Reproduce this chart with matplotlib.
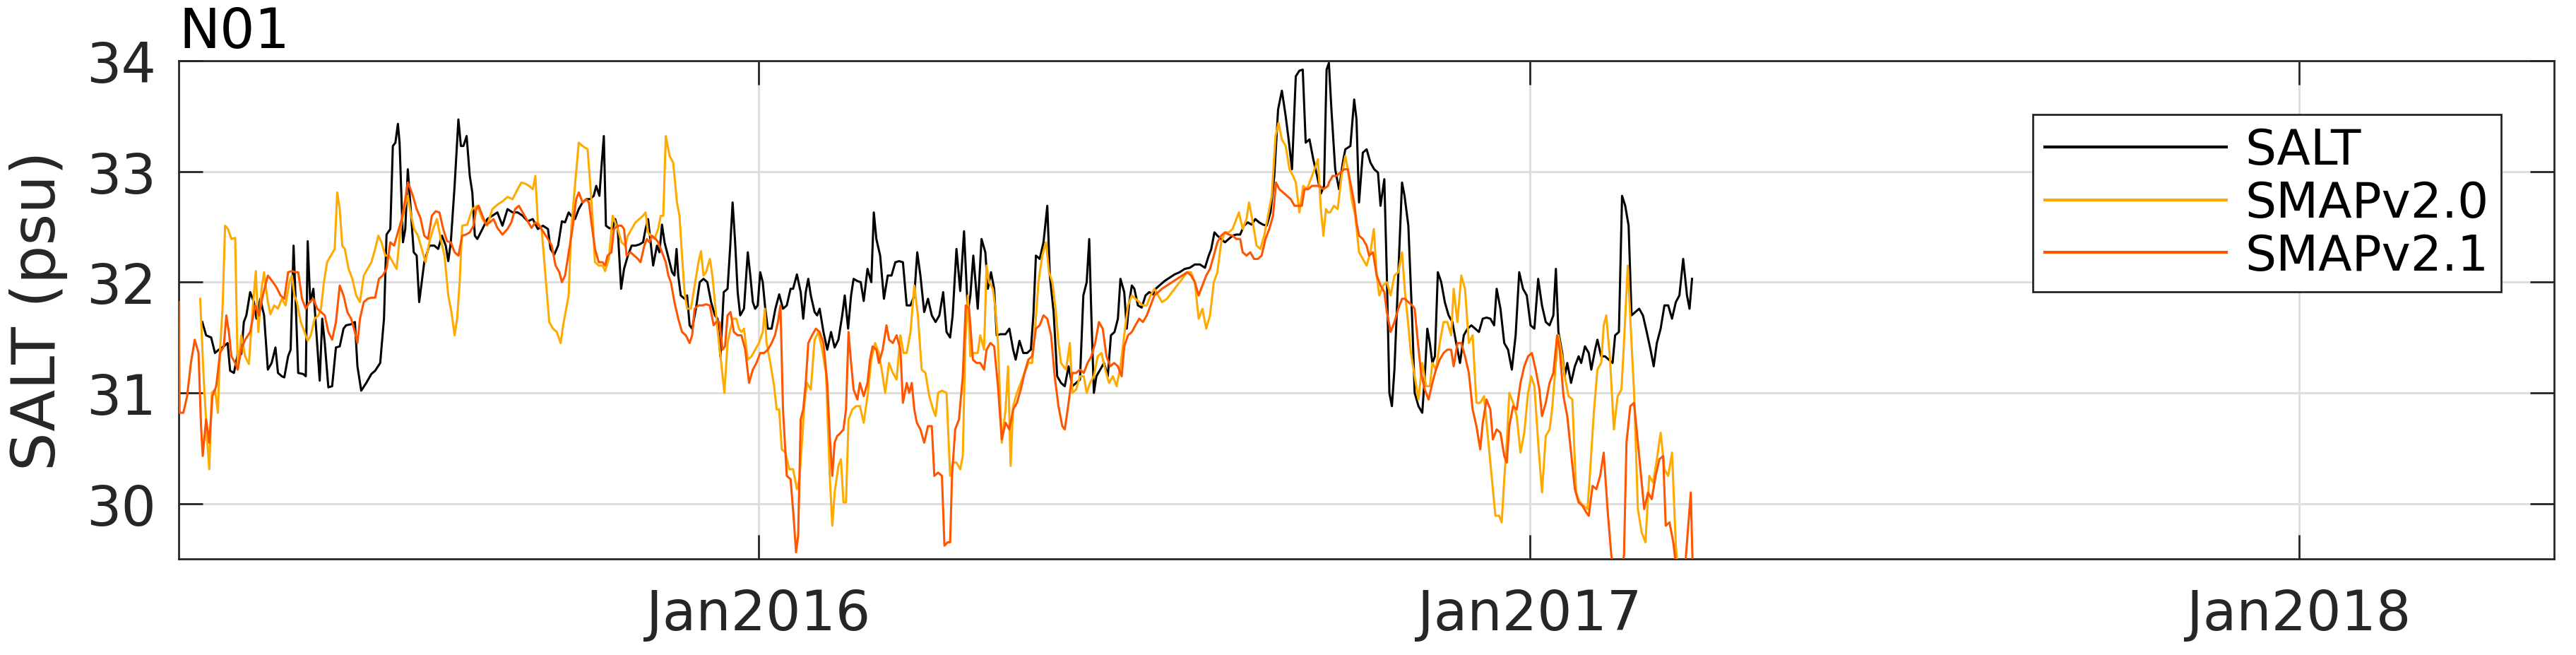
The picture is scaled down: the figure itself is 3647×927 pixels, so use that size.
import numpy as np
import matplotlib
matplotlib.use("Agg")
import matplotlib.pyplot as plt
import matplotlib.dates as mdates
from datetime import datetime

plt.rcParams['font.family'] = ['DejaVu Sans']

# ---------------- data (day offset since 2015-04-01, salinity psu) ----------------
start_date = datetime(2015, 4, 1)
station = "N01"
series_names = ["SALT", "SMAPv2.0", "SMAPv2.1"]
xtick_dates = [datetime(2016, 1, 1), datetime(2017, 1, 1), datetime(2018, 1, 1)]
xtick_labels = ["Jan2016", "Jan2017", "Jan2018"]
ytick_values = [30, 31, 32, 33, 34]

salt = [
 (11.2,31.64),(13.0,31.52),(15.4,31.50),(17.2,31.36),(19.0,31.39),(21.4,31.42),(23.2,31.45),(24.4,31.20),
 (26.2,31.18),(28.0,31.35),(29.7,31.35),(30.9,31.64),(32.1,31.70),(33.9,31.91),(35.7,31.82),(36.9,31.67),
 (38.7,31.85),(40.5,31.70),(42.3,31.21),(44.1,31.27),(45.9,31.41),(47.1,31.18),(48.9,31.15),(50.1,31.14),
 (51.9,31.33),(53.1,31.39),(54.5,32.33),(55.5,31.82),(56.7,31.18),(59.1,31.17),(60.3,31.15),(61.2,32.37),
 (62.4,31.82),(63.9,31.94),(65.1,31.61),(66.9,31.11),(68.1,31.67),(69.3,31.45),(71.0,31.05),(72.8,31.06),
 (74.6,31.41),(76.4,31.42),(78.2,31.58),(79.4,31.61),(81.8,31.62),(83.6,31.64),(84.8,31.24),(86.6,31.02),
 (89.0,31.09),(91.4,31.17),(93.2,31.20),(95.6,31.27),(97.4,31.67),(98.6,32.43),(100.4,32.48),(101.6,33.23),
 (102.8,33.26),(104.0,33.43),(104.8,33.26),(106.4,32.36),(107.5,32.48),(108.7,33.02),(110.3,32.60),(111.5,32.27),
 (112.9,32.24),(114.1,31.82),(115.3,32.00),(116.5,32.18),(118.9,32.33),(121.3,32.33),(123.1,32.30),(124.9,32.42),
 (126.7,32.33),(127.9,32.19),(129.1,32.36),(130.9,32.87),(132.7,33.47),(133.9,33.23),(135.1,33.23),(136.6,33.32),
 (138.1,32.96),(139.3,32.81),(140.5,32.42),(141.7,32.39),(144.1,32.48),(146.4,32.57),(148.8,32.60),(151.2,32.63),
 (153.6,32.51),(156.0,32.66),(158.4,32.63),(160.8,32.63),(163.2,32.60),(165.6,32.55),(168.0,32.57),(170.4,32.48),
 (172.8,32.51),(175.2,32.48),(176.4,32.30),(178.2,32.25),(180.0,32.33),(181.8,32.55),(183.3,32.54),
 (185.0,32.63),(186.2,32.60),(188.0,32.57),(189.8,32.66),(191.6,32.72),(193.4,32.75),(195.2,32.75),(196.9,32.78),
 (198.1,32.87),(199.6,32.78),(200.5,33.02),(201.7,33.32),(202.7,32.51),(204.1,32.49),(205.9,32.48),(207.1,32.57),
 (208.3,32.48),(209.9,31.94),(211.3,32.12),(213.1,32.24),(214.9,32.33),(216.7,32.33),(218.5,32.34),(220.3,32.36),
 (221.5,32.48),(222.7,32.57),(223.9,32.36),(225.1,32.15),(226.9,32.33),(228.1,32.27),(229.3,32.52),(230.5,32.36),
 (231.7,32.27),(232.9,32.18),(234.1,32.09),(235.2,32.06),(236.2,32.30),(237.0,32.06),(238.2,31.88),(240.0,31.85),
 (241.2,31.88),(242.4,31.61),(243.6,31.58),(245.4,31.76),(247.2,32.00),(249.0,32.03),(250.8,32.00),(252.6,31.82),
 (254.4,31.70),(255.6,31.67),(257.0,31.33),(258.6,31.91),(260.4,31.94),(261.6,32.30),(262.8,32.72),(264.0,32.36),
 (265.2,31.91),(266.4,31.70),(268.2,31.76),(270.0,32.27),(271.2,32.06),(272.4,31.82),(273.5,31.76),(274.7,31.79),
 (275.9,32.09),(277.1,32.00),(278.3,31.76),(279.5,31.58),(281.3,31.58),(283.1,31.76),(284.9,31.89),(286.7,31.76),
 (288.5,31.79),(290.3,31.94),(291.5,31.94),(293.3,32.07),(295.1,31.91),(296.3,31.67),(297.5,31.91),(298.7,32.03),
 (299.9,31.88),(301.7,31.73),(302.9,31.70),(304.1,31.76),(305.9,31.55),(307.7,31.39),(309.5,31.55),(311.2,31.41),
 (313.0,31.48),(314.8,31.70),(316.0,31.88),(317.6,31.58),(319.0,31.88),(320.2,32.03),(322.0,32.01),(323.6,32.00),
 (325.0,31.83),(326.8,32.12),(328.6,32.00),(329.8,32.63),(331.0,32.39),(332.8,32.24),(334.6,31.85),(336.4,32.06),
 (338.2,32.06),(340.0,32.18),(341.8,32.19),(343.6,32.18),(345.4,31.79),(347.2,31.79),(349.0,31.88),(350.4,32.27),
 (351.9,32.06),(353.7,31.73),(355.5,31.85),(357.3,31.70),(359.1,31.64),(360.9,31.70),(362.7,31.91),(364.3,31.55),
 (366.0,31.50),(367.2,31.70),(369.0,32.30),(370.8,31.92),(372.6,32.46),(374.4,31.73),(375.6,31.88),(377.0,32.24),
 (379.1,31.76),(380.9,32.39),(382.7,32.27),(383.9,31.94),(385.4,32.09),(386.9,31.94),(388.1,31.52),(389.9,31.53),
 (392.3,31.53),(394.1,31.58),(395.9,31.39),(397.1,31.30),(398.9,31.47),(400.7,31.36),(402.5,31.36),(404.3,31.39),
 (405.5,31.70),(406.7,32.24),(408.5,32.21),(410.3,32.36),(412.1,32.69),(413.3,32.06),(415.1,31.73),(416.8,31.15),
 (418.6,31.09),(420.4,31.06),(422.2,31.24),(424.0,31.06),(425.8,31.09),(427.6,31.12),(429.2,31.88),(430.8,32.00),
 (432.0,32.39),(433.0,31.70),(434.2,31.00),(435.4,31.15),(437.2,31.21),(439.0,31.27),(440.8,31.15),(442.3,31.52),
 (444.0,31.55),(445.6,31.67),(446.8,32.03),(448.6,31.91),(449.8,31.58),(451.0,31.82),(452.2,31.97),(453.4,31.94),
 (455.1,31.79),(456.9,31.77),(458.7,31.88),(460.5,31.91),(462.3,31.89),(463.5,31.94),(465.3,31.97),(467.7,32.01),
 (470.1,32.04),(472.5,32.07),(474.9,32.09),(477.3,32.12),(479.7,32.13),(482.1,32.16),(484.5,32.16),(486.9,32.13),
 (488.7,32.24),(489.9,32.30),(491.4,32.45),(492.8,32.42),(494.6,32.39),(496.4,32.36),(498.2,32.39),(500.0,32.42),
 (501.8,32.43),(503.6,32.43),(505.4,32.51),(507.2,32.54),(509.0,32.52),(510.8,32.57),(512.6,32.54),(514.4,32.52),
 (516.2,32.51),(518.0,32.63),(519.8,32.96),(521.6,33.56),(523.4,33.73),(525.2,33.50),(526.6,33.29),(528.2,33.02),
 (530.0,33.86),(531.7,33.91),(533.3,33.92),(534.7,33.26),(536.5,33.29),(538.3,33.11),(540.1,32.96),(541.9,32.80),
 (543.4,32.87),(544.6,33.92),
 (545.7,33.98),(546.9,33.56),(548.7,33.02),(550.5,32.84),(552.3,33.08),(553.5,33.20),(555.9,33.23),(557.7,33.65),
 (558.8,33.47),(560.0,32.72),(561.8,33.17),(563.6,33.20),(565.4,33.08),(567.2,33.02),(569.0,32.99),(570.2,32.69),
 (572.0,32.93),(573.2,32.06),(574.4,31.00),(575.6,30.88),(576.8,31.21),(578.6,32.06),(580.4,32.90),(581.6,32.78),
 (583.4,32.51),(585.2,31.67),(586.4,31.00),(588.2,30.88),(590.0,30.82),(591.2,31.15),(592.4,31.58),(593.6,31.45),
 (594.8,31.27),(596.0,31.33),(597.4,32.09),(599.0,32.00),(600.7,31.82),(602.5,31.70),(604.3,31.64),(606.1,31.45),
 (607.9,31.27),(609.7,31.52),(611.5,31.58),(613.3,31.61),(615.1,31.58),(616.9,31.55),(618.7,31.67),(620.5,31.68),
 (622.3,31.67),(624.1,31.61),(625.3,31.94),(627.1,31.76),(628.9,31.45),(630.7,31.39),(632.5,31.21),(634.3,31.52),
 (636.0,32.09),(637.8,31.94),(639.6,31.88),(641.4,31.61),(643.2,31.58),(645.0,32.03),(646.8,31.79),(648.6,31.64),
 (650.4,31.61),(652.2,31.70),(653.4,32.12),(654.6,31.55),(656.4,31.36),(657.6,31.15),(658.8,31.27),(660.6,31.09),
 (662.4,31.24),(664.2,31.33),(665.4,31.27),(667.2,31.42),(669.0,31.36),(670.2,31.21),(672.0,31.39),(673.1,31.48),
 (674.9,31.33),(676.7,31.33),(678.5,31.30),(680.3,31.27),(681.5,31.52),(683.3,31.55),(684.8,32.78),(686.3,32.69),
 (687.9,32.51),(689.3,31.70),(691.1,31.73),(692.9,31.76),(694.7,31.70),(696.5,31.55),(698.3,31.39),(699.8,31.24),
 (701.3,31.45),(703.1,31.58),(704.9,31.79),(706.7,31.79),(708.5,31.67),(710.3,31.82),(712.0,31.88),(713.8,32.21),
 (715.6,31.88),(716.8,31.76),(718.0,32.03),
]

smap20 = [
 (10.2,31.85),(11.8,31.15),(13.6,30.55),(14.5,30.31),(15.7,31.00),(17.2,31.03),(18.6,30.82),(19.6,31.39),
 (20.8,31.76),(22.0,32.51),(23.4,32.48),(25.0,32.39),(26.8,32.40),(28.0,31.21),(29.7,31.52),(31.5,31.33),
 (33.3,31.26),(35.1,31.76),(36.6,32.10),(37.8,31.55),(39.3,31.94),(40.5,32.09),(42.3,31.82),(43.5,31.71),
 (45.3,31.79),(47.1,31.76),(48.9,31.85),(50.7,31.79),(52.5,32.00),(53.7,32.06),(54.9,31.88),(56.1,31.82),
 (57.9,31.64),(59.7,31.55),(61.2,31.47),(62.7,31.52),(64.5,31.67),(66.3,31.70),(67.5,31.76),(68.9,32.00),
 (70.4,32.18),(72.2,32.24),(74.0,32.30),(75.2,32.81),(76.4,32.66),(77.6,32.33),(78.8,32.30),(80.6,32.12),
 (82.4,32.03),(84.2,31.88),(86.0,31.82),(87.8,32.06),(89.6,32.12),(91.4,32.18),(93.2,32.30),(94.7,32.42),
 (96.2,32.36),(98.0,32.24),(99.8,32.24),(101.6,32.18),(103.4,32.12),(105.2,32.48),(107.0,32.66),(108.7,32.78),
 (110.3,32.60),(111.7,32.48),(113.5,32.42),(115.3,32.30),(117.1,32.18),(118.9,32.36),(120.7,32.48),(122.5,32.57),
 (124.3,32.39),(126.1,32.24),(127.9,31.88),(129.4,31.73),(130.9,31.52),(132.1,31.67),(133.3,32.00),(134.5,32.51),
 (136.9,32.52),(139.3,32.66),(141.7,32.69),(144.1,32.57),(146.4,32.51),(148.8,32.66),(151.2,32.70),(153.6,32.73),
 (156.0,32.77),(158.4,32.75),(160.8,32.84),(162.6,32.90),(164.4,32.89),(166.2,32.87),(168.0,32.84),(169.2,32.96),
 (170.4,32.54),(172.2,32.48),(174.0,32.06),(175.8,31.64),(177.6,31.58),(179.4,31.55),(181.2,31.45),(182.4,31.61),
 (185.0,31.88),(186.2,32.48),(188.0,32.87),(189.8,33.26),(191.6,33.23),(194.0,33.20),(195.2,32.90),(196.3,32.60),
 (197.5,32.18),(199.3,32.15),(201.1,32.15),(202.3,32.10),(204.1,32.21),(205.9,32.60),(207.1,32.54),(208.3,32.48),
 (210.1,32.36),(211.9,32.33),(213.1,32.42),(214.9,32.48),(216.7,32.54),(218.5,32.57),(220.3,32.60),(221.5,32.63),
 (222.7,32.45),(223.9,32.42),(225.7,32.39),(227.5,32.48),(228.7,32.60),(229.9,32.60),(231.1,33.32),(232.9,33.14),
 (234.6,33.08),(236.4,32.72),(237.6,32.60),(238.8,32.24),(240.0,31.91),(241.2,31.76),(243.0,31.76),(244.8,31.97),
 (246.6,32.18),(247.8,32.28),(249.0,32.06),(250.2,32.09),(252.0,32.21),(253.2,32.06),(254.4,31.82),(255.6,31.58),
 (257.4,31.27),(258.9,31.00),(260.4,31.45),(261.8,31.58),(263.0,31.67),(264.6,31.67),(265.8,31.58),(267.0,31.55),
 (268.2,31.58),(270.0,31.30),(271.8,31.33),(273.5,31.39),(275.3,31.45),(277.1,31.55),(278.1,31.76),(278.9,31.45),
 (280.7,31.27),(282.5,31.06),(283.7,30.85),(284.9,30.85),(286.1,30.49),(287.9,30.46),(289.7,30.31),(291.5,30.31),
 (293.3,30.13),(294.5,30.22),(295.7,30.55),(296.9,30.91),(298.1,31.09),(299.9,31.03),(301.7,31.48),(303.5,31.55),
 (305.3,31.39),(307.1,31.18),(308.9,30.25),(310.1,29.80),(311.2,30.10),(313.0,30.34),(314.2,30.40),(315.4,30.01),
 (316.6,30.01),(317.8,30.76),(319.6,30.85),(321.4,30.88),(323.2,30.88),(325.0,30.73),(326.8,30.97),(328.6,31.30),
 (330.4,31.45),(332.2,31.36),(334.0,31.15),(335.2,31.00),(337.0,31.27),(338.8,31.18),(340.6,31.12),(342.4,31.52),
 (343.9,31.36),(345.4,31.36),(347.2,31.55),(349.0,31.97),(350.7,31.70),(352.5,31.21),(354.3,31.18),(356.1,30.97),
 (357.9,30.85),(359.1,30.79),(360.3,31.00),(362.1,31.02),(364.3,31.00),
 (366.0,30.25),(367.2,30.37),(369.0,30.37),(370.8,30.31),(372.0,30.43),(373.2,31.45),(374.4,31.88),(375.6,31.33),
 (377.3,31.36),(379.1,31.36),(380.3,31.52),(382.1,31.39),(383.3,32.15),(384.5,32.00),(386.3,31.94),(387.5,31.76),
 (388.7,31.45),(390.5,30.55),(392.3,30.85),(393.5,31.24),(394.7,30.34),(395.9,30.88),(397.7,31.00),(399.5,31.09),
 (401.3,31.18),(403.1,31.27),(404.9,31.27),(406.1,31.52),(407.9,32.00),(409.7,32.24),(411.5,32.36),(412.9,32.09),
 (414.5,32.00),(416.2,31.73),(417.4,31.45),(418.6,31.27),(421.0,31.21),(422.8,31.45),(424.0,31.00),(425.8,31.03),
 (427.6,31.15),(429.4,31.15),(430.8,31.00),(432.4,31.09),(434.2,31.15),(436.0,31.33),(437.8,31.36),(439.6,31.21),
 (441.4,31.09),(443.2,31.15),(445.0,31.06),(446.8,31.24),(448.6,31.52),(450.4,31.79),(452.2,31.88),(453.9,31.85),
 (455.7,31.82),(457.5,31.79),(459.3,31.79),(461.1,31.88),(462.9,31.94),(464.7,31.88),(466.5,31.82),(468.9,31.85),
 (471.3,31.91),(473.7,31.97),(476.1,32.03),(478.5,32.09),(480.3,32.09),(482.1,32.00),(483.9,31.67),(485.7,31.76),
 (487.5,31.58),(489.3,31.70),(491.1,32.00),(492.8,32.09),(494.6,32.36),(496.4,32.45),(498.2,32.45),(500.0,32.48),
 (501.2,32.54),(503.0,32.63),(504.8,32.48),(506.6,32.57),(507.8,32.72),(509.6,32.54),(511.4,32.33),(513.2,32.30),
 (515.0,32.42),(516.8,32.60),(518.6,32.78),(520.4,33.32),(521.8,33.44),(523.4,33.29),(525.2,33.23),(527.0,33.02),
 (528.7,32.96),(530.0,32.90),(531.7,32.63),(533.5,32.87),(535.3,32.84),(537.1,32.93),(538.9,33.02),(540.5,33.11),
 (541.9,32.66),(543.1,32.42),(544.3,32.66),(545.3,32.63),
 (546.3,32.63),(548.1,32.69),(549.9,32.66),(551.7,32.96),(553.5,33.14),(554.7,33.02),(556.5,32.75),(558.2,32.60),
 (560.0,32.27),(561.8,32.21),(563.6,32.15),(565.4,32.27),(567.0,32.48),(568.4,32.06),(569.6,31.88),(571.4,31.97),
 (573.2,32.00),(575.0,31.88),(576.8,32.06),(578.6,32.09),(580.4,32.27),(581.8,31.91),(583.4,31.61),(584.6,31.36),
 (586.4,31.15),(588.2,30.94),(590.0,31.27),(591.8,31.06),(593.6,31.06),(594.8,31.27),(596.5,31.21),(598.3,31.45),
 (600.1,31.64),(601.9,31.64),(603.7,31.52),(604.9,31.94),(606.7,31.64),(608.5,32.06),(610.3,31.94),(612.1,31.45),
 (613.9,31.52),(615.7,30.91),(617.5,30.91),(619.3,30.97),(621.1,30.61),(622.9,30.25),(624.7,29.89),(626.5,29.89),
 (627.7,29.83),(628.9,30.22),(630.1,30.55),(631.3,31.00),(633.1,30.91),(634.8,30.79),(636.6,30.46),(638.4,30.64),
 (640.2,31.00),(641.7,31.15),(643.2,31.06),(645.0,30.55),(646.8,30.10),(648.6,30.61),(650.4,30.67),(651.6,30.85),
 (653.4,31.27),(654.6,31.52),(656.4,31.33),(657.6,31.15),(659.4,30.97),(661.2,30.94),(663.0,30.10),(664.8,30.01),
 (666.6,29.98),(668.4,29.95),(669.6,30.28),(671.4,30.82),(673.1,31.21),(674.9,31.27),(676.1,31.61),(677.3,31.70),
 (679.1,31.30),(680.9,30.67),(682.7,30.97),(684.5,31.03),(685.7,31.45),(687.5,32.15),(689.1,31.52),(690.5,31.00),
 (692.3,29.95),(694.1,29.74),(695.9,29.65),(697.7,30.25),(699.5,30.19),(701.3,30.40),(703.1,30.64),(704.9,30.31),
 (706.7,30.25),(708.5,30.46),(710.3,29.62),(711.5,29.35),
]

smap21 = [
 (0.0,31.82),(0.4,30.82),(2.2,30.82),(4.0,30.97),(5.8,31.27),(7.6,31.48),(9.4,31.36),(10.6,30.70),
 (11.4,30.43),(13.0,30.76),(14.5,30.55),(16.0,30.97),(17.8,31.06),(19.6,31.36),(21.4,31.42),(22.6,31.70),
 (23.8,31.55),(25.0,31.33),(26.8,31.27),(28.0,31.21),(29.7,31.39),(31.5,31.48),(33.9,31.55),(36.3,31.79),
 (38.1,31.70),(39.9,31.88),(42.3,32.06),(44.7,32.00),(46.5,31.95),(48.3,31.88),(50.1,31.85),(51.9,32.09),
 (53.7,32.10),(55.5,32.09),(56.7,32.09),(58.5,31.85),(60.3,31.76),(62.1,31.82),(63.9,31.85),(65.7,31.76),
 (67.5,31.73),(69.3,31.70),(71.0,31.55),(72.8,31.48),(74.6,31.64),(76.4,31.97),(78.2,31.88),(80.0,31.73),
 (81.8,31.67),(83.6,31.55),(84.8,31.45),(86.0,31.67),(87.8,31.82),(89.6,31.85),(91.4,31.86),(93.2,31.86),
 (95.0,32.03),(96.8,32.06),(98.6,32.12),(100.4,32.36),(102.2,32.33),(104.0,32.45),(105.8,32.57),(107.5,32.75),
 (108.7,32.90),(110.0,32.84),(111.1,32.78),(112.9,32.66),(114.7,32.58),(116.5,32.42),(118.3,32.39),(120.1,32.60),
 (121.9,32.64),(123.7,32.63),(125.5,32.48),(127.3,32.37),(129.1,32.36),(130.9,32.27),(132.7,32.24),(134.5,32.42),
 (136.3,32.43),(138.1,32.45),(139.9,32.51),(141.1,32.66),(142.3,32.69),(144.1,32.60),(145.9,32.52),(147.6,32.54),
 (149.4,32.57),(151.2,32.49),(153.6,32.43),(156.0,32.48),(157.8,32.54),(159.6,32.66),(161.4,32.69),(163.2,32.63),
 (165.6,32.55),(167.4,32.49),(169.2,32.54),(171.0,32.51),(172.8,32.46),(175.2,32.39),(177.0,32.33),(178.8,32.15),
 (180.6,32.09),(181.8,32.00),(183.3,32.06),
 (186.8,32.48),(188.6,32.75),(189.8,32.81),(191.6,32.72),(193.4,32.75),(194.6,32.72),(195.8,32.54),(197.5,32.30),
 (199.3,32.18),(201.1,32.18),(202.3,32.15),(203.5,32.24),(205.3,32.27),(206.5,32.48),(208.3,32.51),(210.1,32.51),
 (211.3,32.48),(212.5,32.24),(214.3,32.27),(216.1,32.24),(217.9,32.21),(219.1,32.18),(220.9,32.33),(222.1,32.39),
 (223.3,32.36),(224.5,32.42),(226.3,32.39),(227.5,32.36),(229.3,32.27),(231.1,32.18),(232.3,32.06),(233.5,32.00),
 (235.2,31.82),(237.0,31.67),(238.8,31.55),(240.6,31.52),(242.4,31.45),(243.6,31.52),(244.8,31.76),(246.6,31.79),
 (248.4,31.79),(250.2,31.80),(252.0,31.79),(253.8,31.61),(255.0,31.64),(256.6,31.64),(258.0,31.39),(259.2,31.42),
 (260.4,31.70),(261.8,31.73),(263.4,31.55),(265.2,31.52),(267.0,31.52),(268.8,31.39),(270.6,31.09),(272.4,31.21),
 (274.1,31.27),(275.9,31.36),(277.7,31.36),(279.5,31.39),(281.3,31.45),(282.9,31.52),(284.3,31.64),(285.5,31.79),
 (286.7,30.85),(288.5,30.25),(290.3,30.22),(291.7,29.89),(292.9,29.56),(293.9,29.71),(295.1,30.76),(296.3,30.85),
 (297.5,31.09),(298.7,31.45),(300.5,31.52),(302.3,31.58),(304.1,31.55),(305.9,31.45),(307.7,31.09),(308.9,30.61),
 (310.1,30.25),(311.2,30.55),(312.4,30.61),(313.6,30.63),(315.4,30.67),(316.6,30.85),(317.8,31.55),(319.0,31.27),
 (320.2,31.03),(322.0,30.94),(323.2,31.09),(325.0,30.97),(326.8,31.09),(328.0,31.30),(329.2,31.42),(331.0,31.39),
 (332.2,31.27),(334.0,31.39),(335.8,31.61),(337.0,31.48),(338.8,31.45),(340.6,31.52),(342.4,31.39),(343.6,30.91),
 (345.4,31.09),(346.6,31.00),(347.8,31.09),(349.0,30.85),(350.2,30.73),(351.9,30.67),(353.7,30.55),(355.5,30.70),
 (357.3,30.70),(358.5,30.25),(360.3,30.28),(362.1,30.25),(363.3,29.62),
 (364.8,29.65),(366.0,29.65),(366.9,30.25),(368.4,30.67),(370.2,30.76),(372.0,31.15),(373.4,31.79),(375.0,31.76),
 (376.8,31.30),(378.5,31.27),(380.3,31.27),(382.1,31.21),(383.3,31.39),(385.1,31.45),(386.9,31.42),(388.7,31.06),
 (390.5,30.58),(392.3,30.73),(394.1,30.67),(395.9,30.85),(397.7,30.91),(399.5,31.03),(401.3,31.18),(403.1,31.30),
 (404.9,31.33),(406.7,31.58),(408.5,31.61),(410.3,31.70),(412.1,31.67),(413.9,31.52),(415.6,31.15),(417.4,30.88),
 (419.2,30.70),(420.4,30.67),(422.2,30.91),(424.0,31.18),(425.8,31.18),(427.6,31.21),(429.4,31.18),(431.2,31.27),
 (433.0,31.33),(434.8,31.45),(436.6,31.64),(438.4,31.58),(440.2,31.33),(442.0,31.24),(443.8,31.27),(445.6,31.24),
 (447.4,31.15),(448.6,31.42),(450.4,31.52),(452.2,31.55),(453.9,31.61),(455.7,31.67),(457.5,31.64),(459.3,31.70),
 (461.1,31.79),(462.9,31.88),(464.7,31.91),(466.5,31.94),(468.9,31.97),(471.3,32.00),(473.7,32.03),(476.1,32.06),
 (478.5,32.09),(480.3,32.06),(482.1,32.00),(483.9,31.88),(485.7,31.97),(487.5,32.06),(489.3,32.12),(491.1,32.24),
 (492.8,32.36),(494.6,32.42),(496.4,32.45),(498.2,32.43),(500.0,32.42),(501.8,32.39),(503.6,32.39),(504.8,32.27),
 (506.6,32.24),(508.4,32.27),(510.2,32.21),(512.0,32.21),(513.8,32.24),(515.6,32.39),(517.4,32.48),(519.2,32.60),
 (520.6,32.90),(522.2,32.84),(524.0,32.81),(525.8,32.78),(527.6,32.75),(529.4,32.69),(531.1,32.69),(532.9,32.69),
 (534.1,32.84),(535.9,32.84),(537.7,32.87),(539.5,32.87),(541.3,32.87),(543.1,32.84),(545.3,32.87),
 (545.7,32.90),(547.5,32.96),(549.3,32.96),(551.1,32.99),(552.9,33.02),(554.7,33.02),(556.5,32.84),(557.7,32.72),
 (558.8,32.54),(560.0,32.42),(561.8,32.39),(563.6,32.33),(564.8,32.24),(566.6,32.27),(568.4,32.06),(570.2,31.97),
 (572.0,31.91),(573.2,31.73),(575.0,31.55),(576.8,31.64),(578.6,31.76),(580.4,31.85),(581.8,31.85),(583.4,31.82),
 (585.2,31.79),(586.4,31.76),(587.6,31.52),(589.4,31.18),(591.2,31.03),(593.0,30.94),(594.8,31.09),(596.5,31.21),
 (598.3,31.30),(600.1,31.36),(601.9,31.39),(603.7,31.39),(604.9,31.24),(606.7,31.45),(608.5,31.45),(610.3,31.33),
 (612.1,31.18),(613.9,30.85),(615.7,30.70),(617.5,30.49),(618.7,30.73),(620.5,30.94),(622.3,30.85),(623.5,30.58),
 (625.3,30.67),(627.1,30.64),(628.9,30.43),(630.1,30.37),(631.3,30.70),(633.1,30.88),(634.8,30.85),(636.6,31.09),
 (638.4,31.24),(640.2,31.33),(642.0,31.36),(643.8,31.21),(645.6,31.03),(646.8,30.79),(648.6,30.91),(650.4,31.09),
 (652.2,31.18),(654.0,31.52),(655.2,31.39),(657.0,30.97),(658.8,30.79),(660.6,30.46),(662.4,30.13),(664.2,30.01),
 (666.0,29.98),(667.8,29.92),(669.0,29.89),(670.8,30.16),(672.6,30.13),(674.4,30.25),(676.1,30.46),(677.9,29.95),
 (679.7,29.53),(681.5,29.35),(683.9,29.35),(685.7,29.53),(686.9,30.55),(688.7,30.88),(690.5,30.91),(692.3,30.55),
 (694.1,30.19),(695.3,29.95),(697.1,30.10),(698.9,30.04),(700.7,30.25),(702.5,30.40),(704.3,30.43),(705.5,29.80),
 (707.3,29.83),(709.1,29.65),(710.9,29.35),(714.4,29.35),(717.4,30.10),(718.6,29.20),
]

colors = ["#000000", "#FFAA00", "#FF5500"]

# ---------------- figure ----------------
W, H, DPI = 3648, 928, 100
fig = plt.figure(figsize=(W / DPI, H / DPI), dpi=DPI)
ax = fig.add_axes([253 / W, 1 - 792 / H, (3616 - 253) / W, (792 - 87) / H])

t0 = mdates.date2num(start_date)
for data, name, col in zip([salt, smap20, smap21], series_names, colors):
    arr = np.array(data)
    ax.plot(t0 + arr[:, 0], arr[:, 1], color=col, lw=2.2, label=name, zorder=3)

ax.set_xlim(mdates.date2num(datetime(2015, 4, 1)), mdates.date2num(datetime(2018, 5, 2)))
ax.set_ylim(29.5, 34)
ax.set_xticks([mdates.date2num(d) for d in xtick_dates])
ax.set_xticklabels(xtick_labels)
ax.set_yticks(ytick_values)
ax.set_yticklabels([str(v) for v in ytick_values])

axc = "#262626"
ax.grid(True, color="#DEDEDE", lw=2.2, zorder=0)
ax.set_axisbelow(True)
for s in ax.spines.values():
    s.set_color(axc)
    s.set_linewidth(2.0)
ax.tick_params(axis='both', which='major', direction='in', length=24.5, width=2.0,
               color=axc, labelcolor=axc, labelsize=56, top=True, right=True)
ax.tick_params(axis='x', pad=29)
ax.tick_params(axis='y', pad=23)

ax.set_ylabel("SALT (psu)", fontsize=62, color=axc, labelpad=19)
ax.set_title(station, loc='left', fontsize=56, color="#000000", pad=14)

leg = ax.legend(loc='upper right', bbox_to_anchor=(3541 / W, 1 - 163 / H),
                bbox_transform=fig.transFigure, fontsize=50, frameon=True,
                fancybox=False, borderpad=0.25, labelspacing=0.11,
                handlelength=3.7, handletextpad=0.375, borderaxespad=0)
fr = leg.get_frame()
fr.set_edgecolor(axc)
fr.set_linewidth(2.0)
fr.set_facecolor("white")
fr.set_alpha(1)
for l in leg.get_lines():
    l.set_linewidth(3.0)

fig.savefig("out.png", dpi=DPI)
